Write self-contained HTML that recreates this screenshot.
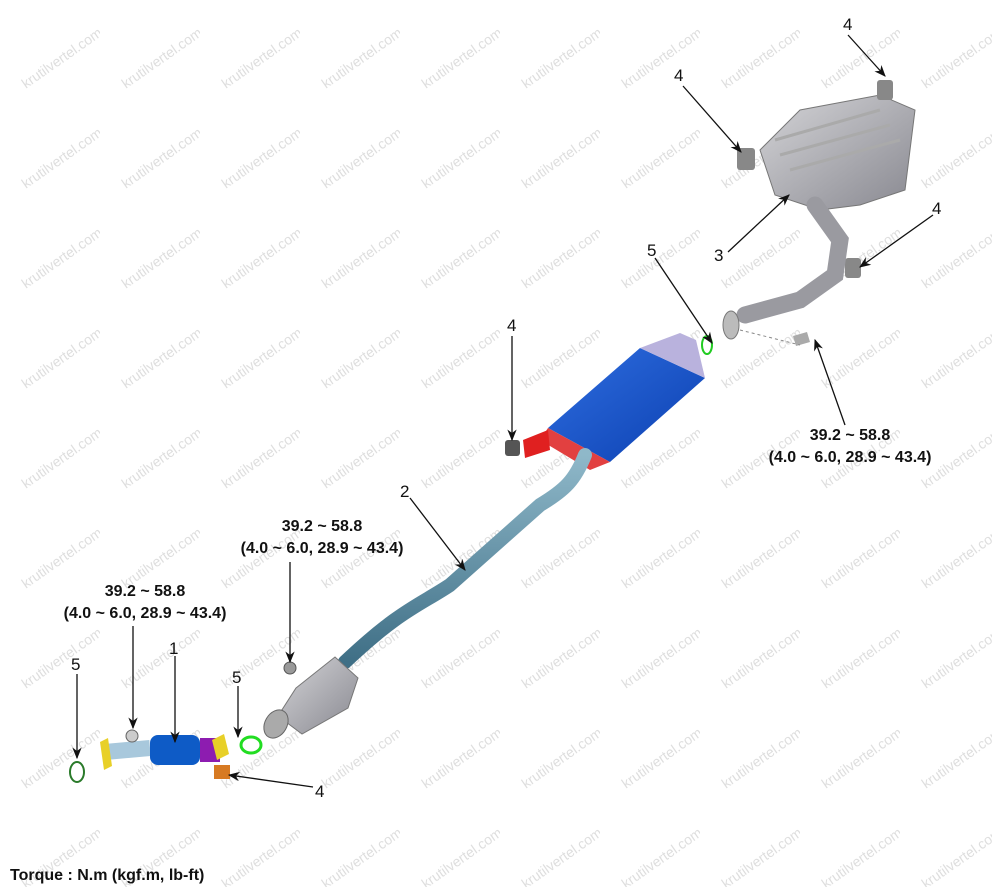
<!DOCTYPE html>
<html><head><meta charset="utf-8"><style>
html,body{margin:0;padding:0;background:#fff;}
svg{display:block;font-family:"Liberation Sans",Arial,sans-serif;}
.t{font-weight:bold;font-size:16px;fill:#111;}
.n{font-size:17px;fill:#111;}
.w{font-size:14px;fill:#dedede;}
</style></head><body>
<svg width="992" height="887" viewBox="0 0 992 887" xmlns="http://www.w3.org/2000/svg">
<defs>
<pattern id="wm" x="0" y="0" width="100" height="100" patternUnits="userSpaceOnUse">
<text x="8" y="68" class="w" transform="rotate(-35 50 50)">krutilvertel.com</text>
</pattern>
<marker id="ar" viewBox="0 0 10 10" refX="9" refY="5" markerWidth="9" markerHeight="9" orient="auto"><path d="M0,1 L10,5 L0,9 L3,5z" fill="#111"/></marker>
<linearGradient id="gp" x1="0" y1="0" x2="0" y2="1"><stop offset="0" stop-color="#8fb8c9"/><stop offset="1" stop-color="#3f6f86"/></linearGradient>
<linearGradient id="gg" x1="0" y1="0" x2="1" y2="1"><stop offset="0" stop-color="#d5d5d8"/><stop offset="1" stop-color="#888890"/></linearGradient>
<linearGradient id="gb" x1="0" y1="0" x2="1" y2="1"><stop offset="0" stop-color="#2f6ee0"/><stop offset="1" stop-color="#0b3fb0"/></linearGradient>
</defs>
<rect width="992" height="887" fill="url(#wm)"/>

<path d="M760,150 L800,110 L880,95 L915,110 L905,190 L860,205 L820,210 L775,195 Z" fill="url(#gg)" stroke="#777" stroke-width="1"/>
<path d="M775,140 L880,110 M780,155 L890,125 M790,170 L900,140" stroke="#aaa" stroke-width="3" fill="none"/>
<rect x="737" y="148" width="18" height="22" fill="#888" rx="3"/>
<rect x="877" y="80" width="16" height="20" fill="#888" rx="3"/>
<rect x="845" y="258" width="16" height="20" fill="#888" rx="3"/>
<path d="M815,205 L840,240 L835,275 L800,300 L745,315" stroke="#9a9aa0" stroke-width="17" fill="none" stroke-linecap="round"/>
<ellipse cx="731" cy="325" rx="8" ry="14" fill="#bbb" stroke="#777"/>
<path d="M793,336 l14,-4 l3,10 l-14,4z" fill="#aaa"/>
<path d="M740,330 L800,345" stroke="#888" stroke-dasharray="3,3"/>

<ellipse cx="707" cy="345" rx="5" ry="9" fill="none" stroke="#2c2" stroke-width="2"/>

<path d="M548,428 L640,348 L705,378 L610,462 Z" fill="url(#gb)"/>
<path d="M640,348 L705,378 L696,340 L680,333 Z" fill="#b9b2dd"/>
<path d="M548,428 L610,462 L590,470 L540,440 Z" fill="#e24040"/>
<path d="M523,440 L548,430 L550,450 L525,458Z" fill="#e02020"/>
<rect x="505" y="440" width="15" height="16" fill="#555" rx="3"/>
<path d="M585,455 C575,480 565,490 540,505 L450,585 C420,605 400,610 345,662" stroke="url(#gp)" stroke-width="14" fill="none" stroke-linecap="round"/>
<path d="M296,688 L335,657 L358,678 L348,708 L302,734 L278,716 Z" fill="url(#gg)" stroke="#777"/>
<ellipse cx="276" cy="724" rx="11" ry="15" fill="#aaa" stroke="#666" transform="rotate(30 276 724)"/>
<circle cx="290" cy="668" r="6" fill="#999" stroke="#555"/>
<ellipse cx="251" cy="745" rx="10" ry="8" fill="none" stroke="#2d2" stroke-width="3"/>
<path d="M105,752 L150,748" stroke="#a8c8dc" stroke-width="16" fill="none"/>
<rect x="150" y="735" width="50" height="30" rx="8" fill="#0e5bc6"/>
<rect x="200" y="738" width="20" height="24" fill="#8d1cb0"/>
<path d="M212,740 l12,-6 l5,20 l-12,6z" fill="#e8d028"/>
<path d="M100,742 l8,-4 l4,28 l-8,4z" fill="#e8d028"/>
<rect x="214" y="765" width="16" height="14" fill="#d77a22"/>
<circle cx="132" cy="736" r="6" fill="#ccc" stroke="#666"/>
<ellipse cx="77" cy="772" rx="7" ry="10" fill="none" stroke="#2a7a2a" stroke-width="2"/>

<g stroke="#111" stroke-width="1.3" fill="none" marker-end="url(#ar)">
<line x1="848" y1="35" x2="885" y2="76"/>
<line x1="683" y1="86" x2="741" y2="152"/>
<line x1="933" y1="215" x2="860" y2="267"/>
<line x1="728" y1="252" x2="789" y2="195"/>
<line x1="655" y1="258" x2="712" y2="343"/>
<line x1="512" y1="336" x2="512" y2="440"/>
<line x1="410" y1="498" x2="465" y2="570"/>
<line x1="845" y1="425" x2="815" y2="340"/>
<line x1="290" y1="562" x2="290" y2="662"/>
<line x1="133" y1="626" x2="133" y2="728"/>
<line x1="175" y1="656" x2="175" y2="742"/>
<line x1="238" y1="686" x2="238" y2="737"/>
<line x1="77" y1="674" x2="77" y2="758"/>
<line x1="313" y1="787" x2="229" y2="775"/>
</g>

<text class="n" x="843" y="30">4</text>
<text class="n" x="674" y="81">4</text>
<text class="n" x="932" y="214">4</text>
<text class="n" x="714" y="261">3</text>
<text class="n" x="647" y="256">5</text>
<text class="n" x="507" y="331">4</text>
<text class="n" x="400" y="497">2</text>
<text class="n" x="169" y="654">1</text>
<text class="n" x="232" y="683">5</text>
<text class="n" x="71" y="670">5</text>
<text class="n" x="315" y="797">4</text>

<text class="t" x="850" y="440" text-anchor="middle">39.2 ~ 58.8</text>
<text class="t" x="850" y="462" text-anchor="middle">(4.0 ~ 6.0, 28.9 ~ 43.4)</text>
<text class="t" x="322" y="531" text-anchor="middle">39.2 ~ 58.8</text>
<text class="t" x="322" y="553" text-anchor="middle">(4.0 ~ 6.0, 28.9 ~ 43.4)</text>
<text class="t" x="145" y="596" text-anchor="middle">39.2 ~ 58.8</text>
<text class="t" x="145" y="618" text-anchor="middle">(4.0 ~ 6.0, 28.9 ~ 43.4)</text>
<text class="t" x="10" y="880">Torque : N.m (kgf.m, lb-ft)</text>
</svg>
</body></html>
